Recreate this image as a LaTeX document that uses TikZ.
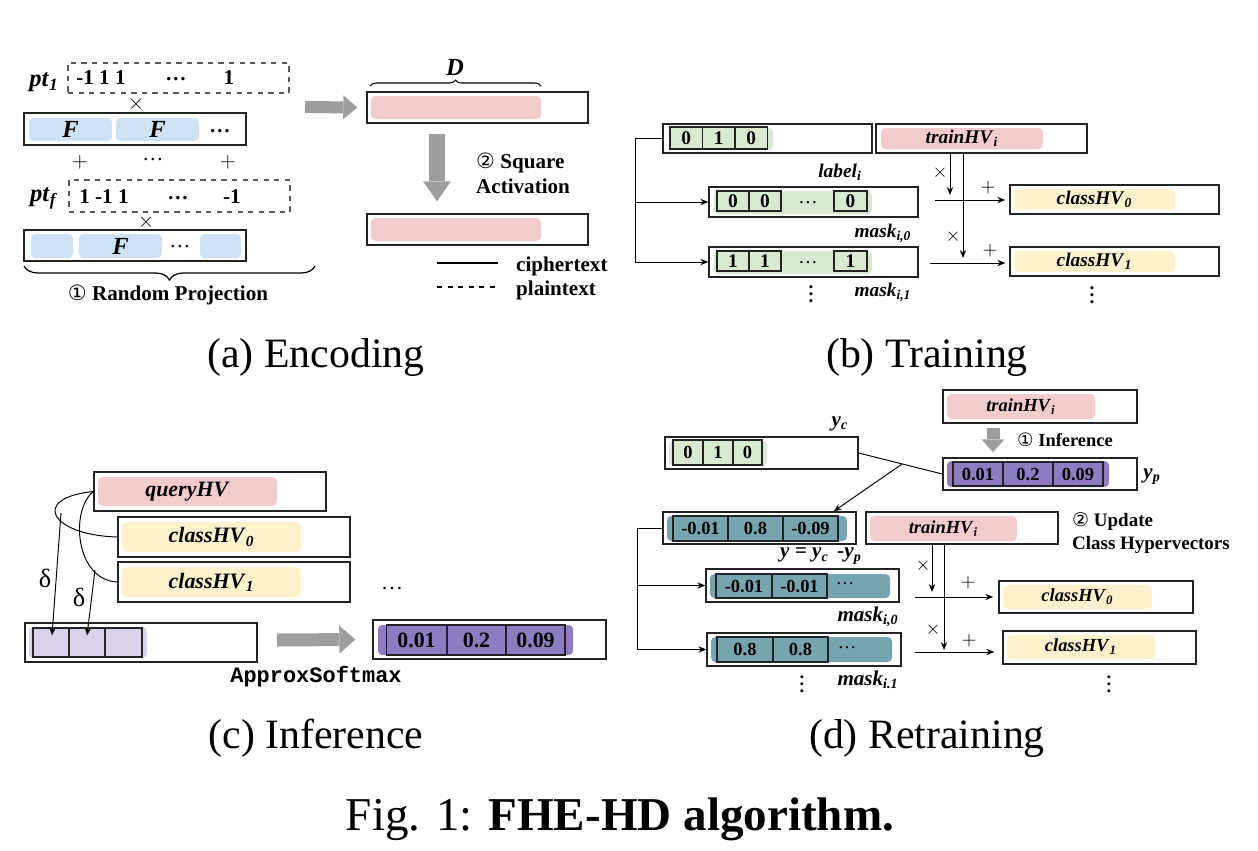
\documentclass[tikz,border=0pt]{standalone}
\usepackage{fontspec}
\setmainfont{Liberation Serif}
\setmonofont{Liberation Mono}
\newfontfamily\circfont{DejaVu Sans}
\usetikzlibrary{calc}
\usetikzlibrary{positioning}
\usetikzlibrary{arrows.meta}
\usetikzlibrary{decorations.pathreplacing}

\definecolor{hvpink}{RGB}{244,204,204}
\definecolor{hvblue}{RGB}{207,226,243}
\definecolor{hvgreen}{RGB}{217,234,211}
\definecolor{hvyellow}{RGB}{255,242,204}
\definecolor{hvlilac}{RGB}{217,210,233}
\definecolor{hvpurple}{RGB}{142,124,195}
\definecolor{hvteal}{RGB}{118,165,175}
\definecolor{fatgray}{RGB}{158,158,158}
\definecolor{boxline}{RGB}{35,35,35}

\newcommand{\bi}[1]{\textbf{\textit{#1}}}
\newcommand{\hvsub}[2]{\bi{#1}\textsubscript{\bi{#2}}}
\newcommand{\circnum}[1]{{\circfont\mdseries #1}}
\newcommand{\fntA}{\fontsize{12}{14.2}\selectfont\bfseries}
\newcommand{\fntB}{\fontsize{11}{13}\selectfont\bfseries}
\newcommand{\fntC}{\fontsize{12.5}{15}\selectfont\bfseries}
\newcommand{\fntD}{\fontsize{10.5}{13}\selectfont\bfseries}
\newcommand{\fntPt}{\fontsize{14}{16}\selectfont\bfseries}
\newcommand{\fntCap}{\fontsize{23.8}{28}\selectfont}
\newcommand{\fntFig}{\fontsize{26.8}{32}\selectfont}

\tikzset{
  sz/.style 2 args={minimum width=#1*0.02cm, minimum height=#2*0.02cm},
  hvbox/.style={draw=boxline, line width=0.8pt, inner sep=0pt},
  ptbox/.style={draw=black!65, dashed, line width=0.6pt, inner sep=0pt},
  hvfill/.style={fill=#1, rounded corners=2.5pt, inner sep=0pt},
  cell/.style={draw=boxline, line width=0.7pt, inner sep=0pt},
  link/.style={-{Stealth[length=4.5pt,width=3.6pt]}, line width=0.55pt},
  fat/.style={draw=fatgray, line width=#1},
  vdot/.style={inner sep=0pt},
}

\begin{document}
\begin{tikzpicture}[x=0.02cm,y=-0.02cm]
\useasboundingbox (0,0) rectangle (1258,850);

% (a) encoding
\begin{scope}[font=\fntA]
\node[ptbox, sz={221}{30}] (pt1) at (178.5,78) {};
\node[font=\fntPt] (pt1lbl) at (44,82) {\hvsub{pt}{1}};
\node (pt1v1) at (101,78) {-1 1 1};
\node (pt1v2) at (176,79) {\dots};
\node (pt1v3) at (229,78) {1};
\node (mul1) at (136,104) {$\times$};
\node[hvbox, sz={222}{32}] (enc1) at (135,129) {};
\node[hvfill=hvblue, sz={83}{23}, font=\fntPt] (enc1f1) at (70.5,129.5) {\bi{F}};
\node[hvfill=hvblue, sz={83}{23}, font=\fntPt] (enc1f2) at (157.5,129.5) {\bi{F}};
\node (enc1dots) at (220,131) {\dots};
\node (plus1) at (80,162) {$+$};
\node (plusdots) at (153,160) {\textmd{\dots}};
\node (plus2) at (228,162) {$+$};
\node[ptbox, sz={221}{32}] (ptf) at (179.5,196) {};
\node[font=\fntPt] (ptflbl) at (44,198) {\hvsub{pt}{f}};
\node (ptfv1) at (104,197) {1 -1 1};
\node (ptfv2) at (178,198) {\dots};
\node (ptfv3) at (232,197) {-1};
\node (mul2) at (146,222) {$\times$};
\node[hvbox, sz={222}{31}] (enc2) at (135,245.5) {};
\node[hvfill=hvblue, sz={42}{24}] (enc2f1) at (52,246) {};
\node[hvfill=hvblue, sz={83}{24}, font=\fntPt] (enc2f2) at (120.5,246) {\bi{F}};
\node (enc2dots) at (180,247) {\textmd{\dots}};
\node[hvfill=hvblue, sz={41}{24}] (enc2f3) at (220.5,246) {};
\draw[decorate, decoration={brace, amplitude=0.28cm}, line width=0.7pt] (315,266) -- (24,266);
\node (rp) at (168,295) {\circnum{①} Random Projection};

\node[hvbox, sz={221}{31}] (enctop) at (477.5,107.5) {};
\node[hvfill=hvpink, sz={170}{23}] (enctopf) at (456,107.5) {};
\node[hvbox, sz={221}{31}] (encbot) at (477.5,229.5) {};
\node[hvfill=hvpink, sz={170}{23}] (encbotf) at (456,229.5) {};
\draw[decorate, decoration={brace, amplitude=0.12cm}, line width=0.6pt] (370,86) -- (541,86);
\node[font=\fntPt] (dlbl) at (455,67) {\bi{D}};
\coordinate (fa) at (305,107);
\draw[fat=0.24cm, -{Triangle[length=0.28cm, width=0.48cm, line width=0pt]}] (fa) -- ($(enctop.west)+(-9,0)$);
\draw[fat=0.32cm, -{Triangle[length=0.4cm, width=0.56cm, line width=0pt]}] ($(enctop.south)+(-40.5,10)$) -- ($(encbot.north)+(-40.5,-12)$);
\node[align=left, anchor=west] (sqact) at (470,173) {\circnum{②} Square\\Activation};
\draw[line width=0.6pt] (437,263) -- (498,263);
\node[anchor=west] (legc) at (510,266) {ciphertext};
\draw[line width=0.6pt, dashed] (437,287) -- (498,287);
\node[anchor=west] (legp) at (510,290) {plaintext};
\end{scope}
\node[font=\fntCap] (capa) at (316,357) {(a) Encoding};

% (b) training
\begin{scope}[font=\fntB]
\node[hvbox, sz={209}{29}] (lblbox) at (767.5,138.5) {};
\node[hvfill=hvgreen, sz={103}{22}] (lblf) at (721.5,139) {};
\node[cell, sz={32.5}{22}] (lb1) at (686.25,138) {0};
\node[cell, sz={32.5}{22}] (lb2) at (718.75,138) {1};
\node[cell, sz={32.5}{22}] (lb3) at (751.25,138) {0};
\node (lbltxt) at (840,172) {\hvsub{label}{i}};
\node[hvbox, sz={211}{29}] (trainb) at (981.5,138.5) {};
\node[hvfill=hvpink, sz={162}{21}] (trainbf) at (962,138.5) {\hvsub{trainHV}{i}};

\node[hvbox, sz={209}{30}] (mask0) at (813.5,202) {};
\node[hvfill=hvgreen, sz={158}{23}] (mask0f) at (793,202.5) {};
\node[cell, sz={32}{20}] (m0c1) at (733,201) {0};
\node[cell, sz={32}{20}] (m0c2) at (765,201) {0};
\node[inner sep=0pt] (m0dots) at (808,203) {\textmd{\dots}};
\node[cell, sz={33}{20}] (m0c3) at (850.5,201) {0};
\node (m0lbl) at (883,233) {\hvsub{mask}{i,0}};
\node[hvbox, sz={209}{30}] (mask1) at (813.5,262) {};
\node[hvfill=hvgreen, sz={158}{23}] (mask1f) at (793,262.5) {};
\node[cell, sz={32}{20}] (m1c1) at (733,261) {1};
\node[cell, sz={32}{20}] (m1c2) at (765,261) {1};
\node[inner sep=0pt] (m1dots) at (808,263) {\textmd{\dots}};
\node[cell, sz={33}{20}] (m1c3) at (850.5,261) {1};
\node[vdot] (m1vd) at (811,289) {$\vdots$};
\node (m1lbl) at (883,292) {\hvsub{mask}{i,1}};

\coordinate (bsplit) at ($(lblbox.west)+(-27,0)$);
\draw[link] (lblbox.west) -- (bsplit) |- (mask1.west);
\draw[link] (bsplit |- mask0.west) -- (mask0.west);

\node[hvbox, sz={209}{29}] (clsb0) at (1114.5,199.5) {};
\node[hvfill=hvyellow, sz={161}{21}] (clsb0f) at (1094.5,199.5) {\hvsub{classHV}{0}};
\node[hvbox, sz={209}{29}] (clsb1) at (1114.5,261.5) {};
\node[hvfill=hvyellow, sz={161}{21}] (clsb1f) at (1094.5,261.5) {\hvsub{classHV}{1}};
\node[vdot] (clsvd) at (1092,290) {$\vdots$};

\coordinate (bva) at (950,195);
\coordinate (bvb) at (963,258);
\draw[link] (trainb.south -| bva) -- (bva);
\draw[link] (trainb.south -| bvb) -- (bvb);
\coordinate (bha) at (935,200);
\coordinate (bhb) at (930,263);
\draw[link] (bha) -- ($(bha -| clsb0.west)+(-4,0)$);
\draw[link] (bhb) -- ($(bhb -| clsb1.west)+(-4,0)$);
\node (bmul1) at (940,173) {$\times$};
\node (bmul2) at (953,237) {$\times$};
\node (bplus1) at (988,188) {$+$};
\node (bplus2) at (990,251) {$+$};
\end{scope}
\node[font=\fntCap] (capb) at (927,357) {(b) Training};

% (c) inference
\begin{scope}[font=\fntC]
\node[hvbox, sz={232}{39}] (qhv) at (210,491.5) {};
\node[hvfill=hvpink, sz={179}{29}] (qhvf) at (187.5,491.5) {\bi{queryHV}};
\node[hvbox, sz={232}{40}] (chv0) at (234,537) {};
\node[hvfill=hvyellow, sz={179}{30}] (chv0f) at (211.5,537) {\hvsub{classHV}{0}};
\node[hvbox, sz={232}{40}] (chv1) at (234,582) {};
\node[hvfill=hvyellow, sz={179}{30}] (chv1f) at (211.5,582) {\hvsub{classHV}{1}};
\node (cdots) at (392,588) {\textmd{\dots}};

\node[hvbox, sz={232}{39}] (res1) at (141,642.5) {};
\node[hvfill=hvlilac, sz={118}{31}] (res1f) at (88,642.5) {};
\node[cell, sz={36}{29}] (rc1) at (51,642.5) {};
\node[cell, sz={36}{29}] (rc2) at (87,642.5) {};
\node[cell, sz={37}{29}] (rc3) at (123.5,642.5) {};

\draw[line width=0.55pt] (qhv.west) .. controls (30,498) and (50,535) .. (chv0.west);
\draw[line width=0.55pt] (qhv.west) .. controls (70,510) and (75,580) .. (chv1.west);
\coordinate (dla) at (61,513);
\coordinate (dlb) at (95,570);
\draw[link] (dla) -- ($(rc1.center)+(1,-7)$);
\draw[link] (dlb) -- ($(rc2.center)+(0,-7)$);
\node[font=\fontsize{15}{17}\selectfont] (delta1) at (45,578) {δ};
\node[font=\fontsize{15}{17}\selectfont] (delta2) at (79,597) {δ};

\node[hvbox, sz={233}{39}] (res2) at (489.5,639.5) {};
\node[hvfill=hvpurple, sz={195}{30}] (res2f) at (475.5,640) {};
\node[cell, sz={60}{30}] (sc1) at (416.5,640) {0.01};
\node[cell, sz={59}{30}] (sc2) at (476.5,640) {0.2};
\node[cell, sz={59}{30}] (sc3) at (535.5,640) {0.09};
\coordinate (fc) at (277,640);
\draw[fat=0.26cm, -{Triangle[length=0.32cm, width=0.56cm, line width=0pt]}] (fc) -- ($(res2.west)+(-17,0)$);
\node[font=\fontsize{12.5}{15}\selectfont\ttfamily\bfseries] (asm) at (316,677) {ApproxSoftmax};
\end{scope}
\node[font=\fntCap] (capc) at (316,738) {(c) Inference};

% (d) retraining
\begin{scope}[font=\fntD]
\node[hvbox, sz={193}{32}] (ycbox) at (761.5,453) {};
\node[hvfill=hvgreen, sz={98}{25}] (ycf) at (718,453.5) {};
\node[cell, sz={30}{25}] (yc1) at (688,452.5) {0};
\node[cell, sz={30}{25}] (yc2) at (718,452.5) {1};
\node[cell, sz={29}{25}] (yc3) at (747.5,452.5) {0};
\node[font=\fontsize{12}{14}\selectfont\bfseries] (yclbl) at (840,424) {\hvsub{y}{c}};

\node[hvbox, sz={194}{33}] (traintop) at (1040,406.5) {};
\node[hvfill=hvpink, sz={148}{25}] (traintopf) at (1021,406.5) {\hvsub{trainHV}{i}};
\node[anchor=west] (infer) at (1011,440) {\circnum{①} Inference};
\node[hvbox, sz={194}{32}] (ypbox) at (1040,474) {};
\node[hvfill=hvpurple, sz={162}{26}] (ypf) at (1028,474) {};
\node[cell, sz={50}{24}] (yp1) at (978,474) {0.01};
\node[cell, sz={50}{24}] (yp2) at (1028,474) {0.2};
\node[cell, sz={50}{24}] (yp3) at (1078,474) {0.09};
\node[font=\fontsize{12}{14}\selectfont\bfseries] (yplbl) at (1152,477) {\hvsub{y}{p}};
\draw[fat=0.26cm, -{Triangle[length=0.26cm, width=0.46cm, line width=0pt]}] ($(traintop.south)+(-47,4)$) -- ($(ypbox.north)+(-47,-5)$);

\node[hvbox, sz={193}{32}] (ybox) at (759.5,528) {};
\node[hvfill=hvteal, sz={180}{25}] (yf) at (757,528.5) {};
\node[cell, sz={55}{25}] (y1) at (700.5,528.5) {-0.01};
\node[cell, sz={55}{25}] (y2) at (755.5,528.5) {0.8};
\node[cell, sz={55}{25}] (y3) at (810.5,528.5) {-0.09};
\node[font=\fontsize{12}{14}\selectfont\bfseries] (ylbl) at (821,556) {\bi{y = y}\textsubscript{\bi{c}}\, \bi{-y}\textsubscript{\bi{p}}};

\draw[line width=0.55pt] (ycbox.east) -- (ypbox.west);
\coordinate (dsplit) at ($(ycbox.east)!0.52!(ypbox.west)$);
\draw[link] (dsplit) -- ($(ybox.north east)+(-23,0)$);

\node[hvbox, sz={192}{32}] (train2) at (962,528) {};
\node[hvfill=hvpink, sz={147}{25}] (train2f) at (943.5,528.5) {\hvsub{trainHV}{i}};
\node[align=left, anchor=west, font=\fontsize{10.8}{13}\selectfont\bfseries] (upd) at (1066,533) {\circnum{②} Update\\Class Hypervectors};

\node[hvbox, sz={193}{33}] (dm0) at (802.5,585.5) {};
\node[hvfill=hvteal, sz={180}{24}] (dm0f) at (800,586) {};
\node[cell, sz={56}{24}] (dm0c1) at (744,586) {-0.01};
\node[cell, sz={55}{24}] (dm0c2) at (799.5,586) {-0.01};
\node[inner sep=0pt] (dm0dots) at (845,584) {\textmd{\dots}};
\node[font=\fontsize{12}{14}\selectfont\bfseries] (dm0lbl) at (868,617) {\hvsub{mask}{i,0}};
\node[hvbox, sz={194}{33}] (dm1) at (804,649.5) {};
\node[hvfill=hvteal, sz={181}{25}] (dm1f) at (801.5,649.5) {};
\node[cell, sz={56}{25}] (dm1c1) at (745,649.5) {0.8};
\node[cell, sz={55}{25}] (dm1c2) at (800.5,649.5) {0.8};
\node[inner sep=0pt] (dm1dots) at (847,648) {\textmd{\dots}};
\node[vdot] (dm1vd) at (802,679) {$\vdots$};
\node[font=\fontsize{12}{14}\selectfont\bfseries] (dm1lbl) at (868,680) {\hvsub{mask}{i.1}};

\coordinate (dsplit2) at ($(ybox.west)+(-25,0)$);
\draw[link] (ybox.west) -- (dsplit2) |- (dm1.west);
\draw[link] (dsplit2 |- dm0.west) -- (dm0.west);

\node[hvbox, sz={194}{32}] (cd0) at (1096,597) {};
\node[hvfill=hvyellow, sz={149}{24}] (cd0f) at (1077.5,597) {\hvsub{classHV}{0}};
\node[hvbox, sz={193}{33}] (cd1) at (1099.5,647.5) {};
\node[hvfill=hvyellow, sz={148}{24}] (cd1f) at (1081,647) {\hvsub{classHV}{1}};
\node[vdot] (cdvd) at (1109,679) {$\vdots$};

\coordinate (dva) at (932,592);
\coordinate (dvb) at (944,650);
\draw[link] (train2.south -| dva) -- (dva);
\draw[link] (train2.south -| dvb) -- (dvb);
\coordinate (dha) at (915,597);
\coordinate (dhb) at (915,652);
\draw[link] (dha) -- ($(dha -| cd0.west)+(-5,0)$);
\draw[link] (dhb) -- ($(dhb -| cd1.west)+(-8,0)$);
\node[font=\fntB] (dmul1) at (923,566) {$\times$};
\node[font=\fntB] (dmul2) at (933,630) {$\times$};
\node[font=\fntB] (dplus1) at (968,583) {$+$};
\node[font=\fntB] (dplus2) at (969,641) {$+$};
\end{scope}
\node[font=\fntCap] (capd) at (927,738) {(d) Retraining};

\node[font=\fntFig] (figcap) at (620,819) {Fig. 1: \textbf{FHE-HD algorithm.}};
\end{tikzpicture}
\end{document}
